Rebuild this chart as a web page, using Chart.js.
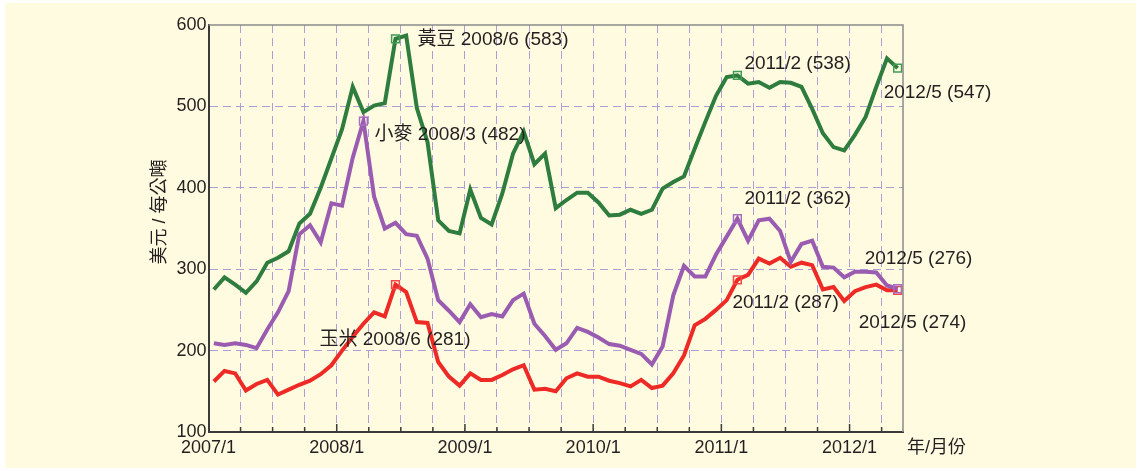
<!DOCTYPE html>
<html>
<head>
<meta charset="utf-8">
<script src="https://cdn.jsdelivr.net/npm/chart.js@4.4.1/dist/chart.umd.min.js"></script>
<style>
  html, body { margin: 0; padding: 0; background: #fff; }
  #wrap { width: 1141px; height: 471px; }
</style>
</head>
<body>
<div id="wrap"><canvas id="priceChart" width="1141" height="471"></canvas></div>
<script>
// monthly prices, 2007/1 - 2012/5 (USD per tonne)
const yearLabels = ['2007/1', '2008/1', '2009/1', '2010/1', '2011/1', '2012/1'];
const yTicks = [100, 200, 300, 400, 500, 600];
const seriesNames = ['黃豆', '小麥', '玉米'];

const soybean = [275, 290, 281, 271, 285, 308, 314, 322, 356, 368, 400, 436,
    472, 524, 493, 501, 504, 583, 587, 498, 456, 360, 347, 344,
    398, 363, 355, 393, 442, 469, 429, 442, 375, 385, 394, 394,
    382, 366, 367, 373, 368, 373, 399, 407, 414, 448, 481, 513,
    536, 538, 528, 530, 523, 530, 529, 524, 497, 467, 450, 446,
    465, 487, 524, 559, 547];
const wheat = [209, 207, 209, 207, 203, 226, 247, 273, 343, 354, 333, 381,
    378, 437, 482, 389, 350, 357, 343, 341, 313, 262, 249, 235,
    257, 241, 245, 242, 262, 270, 233, 218, 201, 209, 228, 223,
    216, 208, 206, 201, 196, 183, 205, 268, 304, 291, 291, 318,
    340, 362, 335, 360, 362, 347, 309, 331, 335, 303, 302, 290,
    297, 297, 296, 280, 276];
const corn = [162, 175, 172, 151, 159, 164, 146, 152, 158, 163, 171, 182,
    200, 217, 233, 247, 242, 281, 272, 235, 234, 186, 168, 157,
    172, 164, 164, 170, 177, 182, 152, 153, 150, 166, 172, 168,
    168, 163, 160, 156, 164, 154, 157, 172, 194, 231, 239, 250,
    262, 287, 293, 313, 307, 314, 303, 308, 305, 275, 278, 261,
    273, 278, 281, 274, 274];

// labelled points: [series, month index]
const callouts = [
    [0, 17], [1, 14], [2, 17],
    [0, 49], [1, 49], [2, 49],
    [0, 64], [1, 64], [2, 64]
];
// text offset from the point (left edge, middle)
const calloutOffsets = [
    [22, 1], [11, 14], [-76, 55],
    [7, -12], [7, -20], [-5, 23],
    [-14, 25], [-33, -30], [-39, 32]
];

const seriesColors = ['#2e7d3e', '#9a5cb0', '#ee2a26'];
const markerColors = ['#3f9b55', '#a86cc2', '#f2484a'];
const gridColor = '#ab9fd6';
const axisColor = '#3a3a3a';
const textColor = '#231f20';
const fontFamily = "'Liberation Sans', Arial, 'Noto Sans CJK TC', sans-serif";

const monthLabel = i => `${2007 + Math.floor(i / 12)}/${i % 12 + 1}`;
const toPoints = arr => arr.map((v, i) => ({ x: i + 0.5, y: v }));

function makeDataset(values, s) {
    const marked = callouts.filter(c => c[0] === s).map(c => c[1]);
    return {
        label: seriesNames[s],
        data: toPoints(values),
        borderColor: seriesColors[s],
        borderWidth: 4,
        tension: 0,
        fill: false,
        pointStyle: 'rect',
        pointRadius: ctx => marked.includes(ctx.dataIndex) ? 5.5 : 0,
        pointHoverRadius: 0,
        pointBorderWidth: 1.5,
        pointBorderColor: markerColors[s],
        pointBackgroundColor: 'rgba(0,0,0,0)'
    };
}

const panelPlugin = {
    id: 'panel',
    beforeDraw(chart) {
        const ctx = chart.ctx;
        ctx.save();
        ctx.fillStyle = '#ffffff';
        ctx.fillRect(0, 0, chart.width, chart.height);
        ctx.fillStyle = '#fffbe0';
        ctx.fillRect(5, 3, chart.width - 10, chart.height - 6);
        ctx.restore();
    },
    afterDraw(chart) {
        const ctx = chart.ctx;
        const area = chart.chartArea;
        const xs = chart.scales.x;
        ctx.save();

        // top and right frame
        ctx.strokeStyle = '#8a8a8a';
        ctx.lineWidth = 1.5;
        ctx.beginPath();
        ctx.moveTo(area.left, area.top);
        ctx.lineTo(area.right, area.top);
        ctx.lineTo(area.right, area.bottom);
        ctx.stroke();

        // inner tick marks on the month axis
        ctx.strokeStyle = axisColor;
        ctx.lineWidth = 1.5;
        xs.ticks.forEach(t => {
            if (t.value === 0) return;
            const px = xs.getPixelForValue(t.value);
            const len = t.value % 12 === 0 ? 8 : 5;
            ctx.beginPath();
            ctx.moveTo(px, area.bottom);
            ctx.lineTo(px, area.bottom - len);
            ctx.stroke();
        });

        // callout texts
        ctx.fillStyle = textColor;
        ctx.font = `19px ${fontFamily}`;
        ctx.textAlign = 'left';
        ctx.textBaseline = 'middle';
        const named = {};
        callouts.forEach((c, k) => {
            const [s, i] = c;
            const pt = chart.getDatasetMeta(s).data[i];
            const values = chart.data.datasets[s].data;
            let text = `${monthLabel(i)} (${values[i].y})`;
            if (!named[s]) {
                text = `${seriesNames[s]} ${text}`;
                named[s] = true;
            }
            ctx.fillText(text, pt.x + calloutOffsets[k][0], pt.y + calloutOffsets[k][1]);
        });

        // axis titles
        ctx.font = `18px ${fontFamily}`;
        ctx.fillText('年/月份', area.right + 4, 448);
        ctx.translate(160, 212);
        ctx.rotate(-Math.PI / 2);
        ctx.textAlign = 'center';
        ctx.fillText('美元 / 每公噸', 0, 0);
        ctx.restore();
    }
};

const ctx = document.getElementById('priceChart').getContext('2d');
const priceChart = new Chart(ctx, {
    type: 'line',
    data: {
        datasets: [
            makeDataset(soybean, 0),
            makeDataset(wheat, 1),
            makeDataset(corn, 2)
        ]
    },
    options: {
        responsive: false,
        animation: false,
        events: [],
        layout: { padding: { left: 150, top: 25, right: 238, bottom: 9 } },
        plugins: {
            legend: { display: false },
            tooltip: { enabled: false }
        },
        scales: {
            x: {
                type: 'linear',
                min: 0,
                max: soybean.length,
                afterBuildTicks: s => {
                    const ticks = [];
                    for (let v = 0; v < soybean.length; v += 3) ticks.push({ value: v });
                    s.ticks = ticks;
                },
                afterFit: s => { s.height = 30; },
                grid: {
                    color: c => (c.tick && c.tick.value > 0) ? gridColor : 'rgba(0,0,0,0)',
                    lineWidth: 1,
                    drawTicks: false
                },
                border: { display: true, color: axisColor, width: 2, dash: [8, 5] },
                ticks: {
                    autoSkip: false,
                    maxRotation: 0,
                    padding: 5,
                    color: textColor,
                    font: { family: fontFamily, size: 18 },
                    callback: v => v % 12 === 0 ? yearLabels[v / 12] : ''
                }
            },
            y: {
                min: 100,
                max: 600,
                afterBuildTicks: s => { s.ticks = yTicks.map(v => ({ value: v })); },
                afterFit: s => { s.width = 58.5; },
                grid: {
                    color: c => (c.tick && c.tick.value > 100 && c.tick.value < 600) ? gridColor : 'rgba(0,0,0,0)',
                    lineWidth: 1,
                    drawTicks: false
                },
                border: { display: true, color: axisColor, width: 2, dash: [8, 5] },
                ticks: {
                    padding: 2,
                    color: textColor,
                    font: { family: fontFamily, size: 18 }
                }
            }
        }
    },
    plugins: [panelPlugin]
});
</script>
</body>
</html>
